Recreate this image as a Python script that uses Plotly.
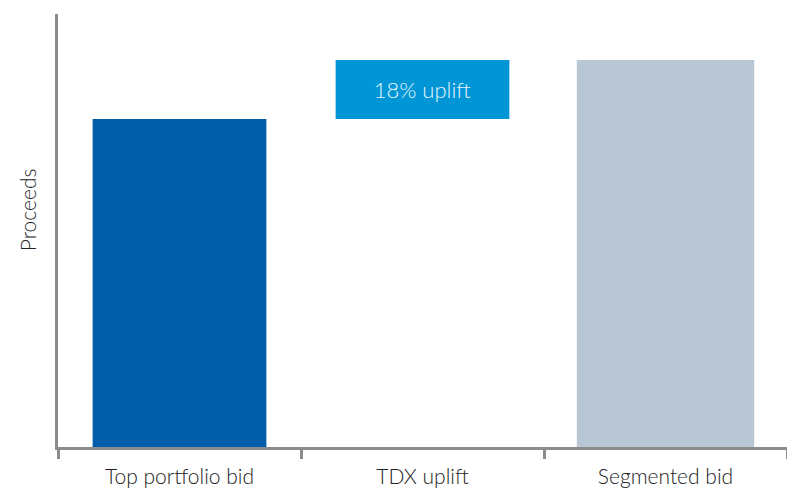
import plotly.graph_objects as go

categories = ["Top portfolio bid", "TDX uplift", "Segmented bid"]
values = [100, 18, 118]
bases = [0, 100, 0]
bar_text = ["", "18% uplift", ""]
colors = ["#005DAA", "#0096D6", "#B9C7D4"]
bar_widths = [0.715, 0.715, 0.73]

fig = go.Figure()
fig.add_trace(go.Bar(
    x=categories, y=values, base=bases,
    marker=dict(color=colors, line=dict(width=0)),
    width=bar_widths,
    text=bar_text, textposition="inside", insidetextanchor="middle",
    textfont=dict(color="#E6F4FB", size=22, family="Lato", weight=300),
    hoverinfo="skip",
))

fig.update_layout(
    width=787, height=484,
    margin=dict(l=50, r=8, t=6, b=45, autoexpand=False),
    paper_bgcolor="white", plot_bgcolor="white",
    showlegend=False,
    font=dict(family="Lato", color="#222222"),
    xaxis=dict(
        range=[-0.5, 2.5],
        automargin=False,
        showline=True, linecolor="#8C8C8C", linewidth=3,
        ticks="outside", tickson="boundaries", ticklen=9, tickwidth=3, tickcolor="#8C8C8C",
        tickfont=dict(size=21, color="#222222", family="Lato", weight=300),
        ticklabelstandoff=9,
        showgrid=False, zeroline=False,
    ),
    yaxis=dict(
        range=[0, 132],
        automargin=False,
        showline=True, linecolor="#8C8C8C", linewidth=3,
        showticklabels=False, ticks="", showgrid=False, zeroline=False,
    ),
    annotations=[dict(
        text="Proceeds", textangle=-90, xref="paper", yref="paper",
        x=-0.0425, y=0.547, xanchor="center", yanchor="middle", showarrow=False,
        font=dict(size=21, color="#222222", family="Lato", weight=300),
    )],
)

fig.write_html("out.html")
